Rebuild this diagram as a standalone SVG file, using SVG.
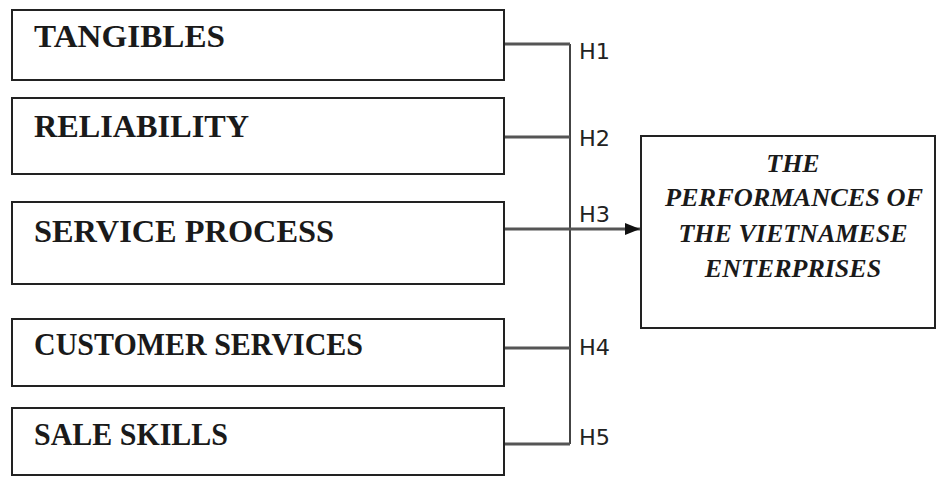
<svg xmlns="http://www.w3.org/2000/svg" width="937" height="477" viewBox="0 0 937 477">
<style>
.box{fill:#fff;stroke:#222;stroke-width:2}
.lbl{font-family:"Liberation Serif","Times New Roman",serif;font-weight:bold;font-size:32px;fill:#1a1a1a}
.out{font-family:"Liberation Serif","Times New Roman",serif;font-weight:bold;font-style:italic;font-size:26px;fill:#1a1a1a;text-anchor:middle}
.h{font-family:"DejaVu Sans","Liberation Sans",sans-serif;font-size:21px;fill:#222}
.con{fill:none;stroke:#555;stroke-width:3}
.vert{fill:none;stroke:#444;stroke-width:2}
</style>
<defs>
<marker id="arr" markerWidth="16" markerHeight="14" refX="15" refY="7" orient="auto" markerUnits="userSpaceOnUse">
<path d="M0,1 L15,7 L0,13 z" fill="#111"/>
</marker>
</defs>
<rect width="937" height="477" fill="#fff"/>
<g id="tangibles"><rect class="box" x="12" y="10" width="492" height="70"/><text class="lbl" x="34" y="47" textLength="191" lengthAdjust="spacingAndGlyphs">TANGIBLES</text></g>
<g id="reliability"><rect class="box" x="12" y="98" width="492" height="76"/><text class="lbl" x="34" y="137" textLength="215" lengthAdjust="spacingAndGlyphs">RELIABILITY</text></g>
<g id="service-process"><rect class="box" x="12" y="202" width="492" height="82"/><text class="lbl" x="34" y="242" textLength="300" lengthAdjust="spacingAndGlyphs">SERVICE PROCESS</text></g>
<g id="customer-services"><rect class="box" x="12" y="319" width="492" height="67"/><text class="lbl" x="34" y="355" textLength="329" lengthAdjust="spacingAndGlyphs">CUSTOMER SERVICES</text></g>
<g id="sale-skills"><rect class="box" x="12" y="408" width="492" height="67"/><text class="lbl" x="34" y="445" textLength="194" lengthAdjust="spacingAndGlyphs">SALE SKILLS</text></g>
<g id="performance"><rect class="box" x="641" y="136" width="294" height="192"/>
<text class="out" x="793" y="172">THE</text>
<text class="out" x="794" y="206" textLength="258" lengthAdjust="spacingAndGlyphs">PERFORMANCES OF</text>
<text class="out" x="793" y="242">THE VIETNAMESE</text>
<text class="out" x="793" y="277">ENTERPRISES</text></g>
<g id="connectors">
<path class="vert" d="M570,44 V444"/>
<path class="con" d="M505,44 H570"/>
<path class="con" d="M505,137 H570"/>
<path class="con" d="M505,229 H640" marker-end="url(#arr)"/>
<path class="con" d="M505,348 H570"/>
<path class="con" d="M505,444 H570"/>
<text class="h" x="579" y="59" textLength="31" lengthAdjust="spacingAndGlyphs">H1</text>
<text class="h" x="579" y="146" textLength="31" lengthAdjust="spacingAndGlyphs">H2</text>
<text class="h" x="579" y="222" textLength="31" lengthAdjust="spacingAndGlyphs">H3</text>
<text class="h" x="579" y="355" textLength="31" lengthAdjust="spacingAndGlyphs">H4</text>
<text class="h" x="579" y="445" textLength="31" lengthAdjust="spacingAndGlyphs">H5</text>
</g>
</svg>
